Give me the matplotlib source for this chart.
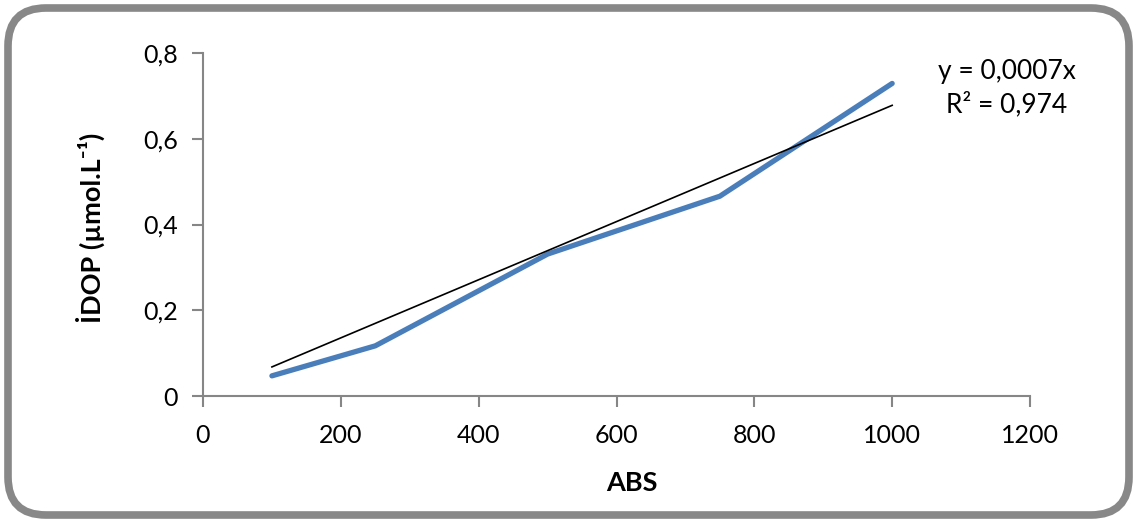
import matplotlib
matplotlib.use("Agg")
import matplotlib.pyplot as plt
from matplotlib.patches import FancyBboxPatch
import numpy as np

plt.rcParams['font.family'] = ['Lato', 'DejaVu Sans']

abs_x = [100, 250, 500, 750, 1000]
idop_y = [0.047, 0.117, 0.331, 0.466, 0.729]
x_ticks = [0, 200, 400, 600, 800, 1000, 1200]
y_ticks = [0, 0.2, 0.4, 0.6, 0.8]
x_label = "ABS"
y_label = "İDOP (µmol.L\u207b\u00b9)"
eq_text = "y = 0,0007x\nR² = 0,974"

W, H = 1137, 523
fig = plt.figure(figsize=(W / 100, H / 100), dpi=100)
ax = fig.add_axes([203 / W, 127 / H, (1030 - 203) / W, (470 - 127) / H])

ax.plot(abs_x, idop_y, color='#4a7ebb', lw=3.8, solid_capstyle='round', zorder=3)

# linear trendline through origin (least squares)
xa = np.array(abs_x, dtype=float)
ya = np.array(idop_y, dtype=float)
slope = (xa * ya).sum() / (xa * xa).sum()
ax.plot([xa.min(), xa.max()], [slope * xa.min(), slope * xa.max()], color='black', lw=1.2, zorder=4)

ax.set_xlim(0, 1200)
ax.set_ylim(0, 0.8)
ax.set_xticks(x_ticks)
ax.set_yticks(y_ticks)
ax.set_xticklabels([str(v) for v in x_ticks])
ax.set_yticklabels(["0" if v == 0 else f"{v:.1f}".replace('.', ',') for v in y_ticks])

for s in ['top', 'right']:
    ax.spines[s].set_visible(False)
for s in ['left', 'bottom']:
    ax.spines[s].set_color('#868686')
    ax.spines[s].set_linewidth(1.5)
ax.tick_params(axis='both', colors='#868686', length=8, width=1.5, labelsize=18, labelcolor='black')
ax.tick_params(axis='y', pad=10)
ax.tick_params(axis='x', pad=12)

fig.text(632 / W, 1 - 483 / H, x_label, ha='center', va='center', fontsize=19.5, fontweight='bold')
fig.text(90 / W, 1 - 228 / H, y_label, ha='center', va='center', rotation=90, fontsize=19.5, fontweight='bold')
fig.text(1007 / W, 1 - 88 / H, eq_text, ha='center', va='center', fontsize=19, linespacing=1.35)

border = FancyBboxPatch((0.08, 0.08), (W - 16) / 100, (H - 16) / 100,
                        boxstyle="round,pad=0,rounding_size=0.38",
                        transform=fig.dpi_scale_trans, fill=False, edgecolor='#888888', lw=5.5)
fig.patches.append(border)

fig.savefig("out.png", dpi=100)
